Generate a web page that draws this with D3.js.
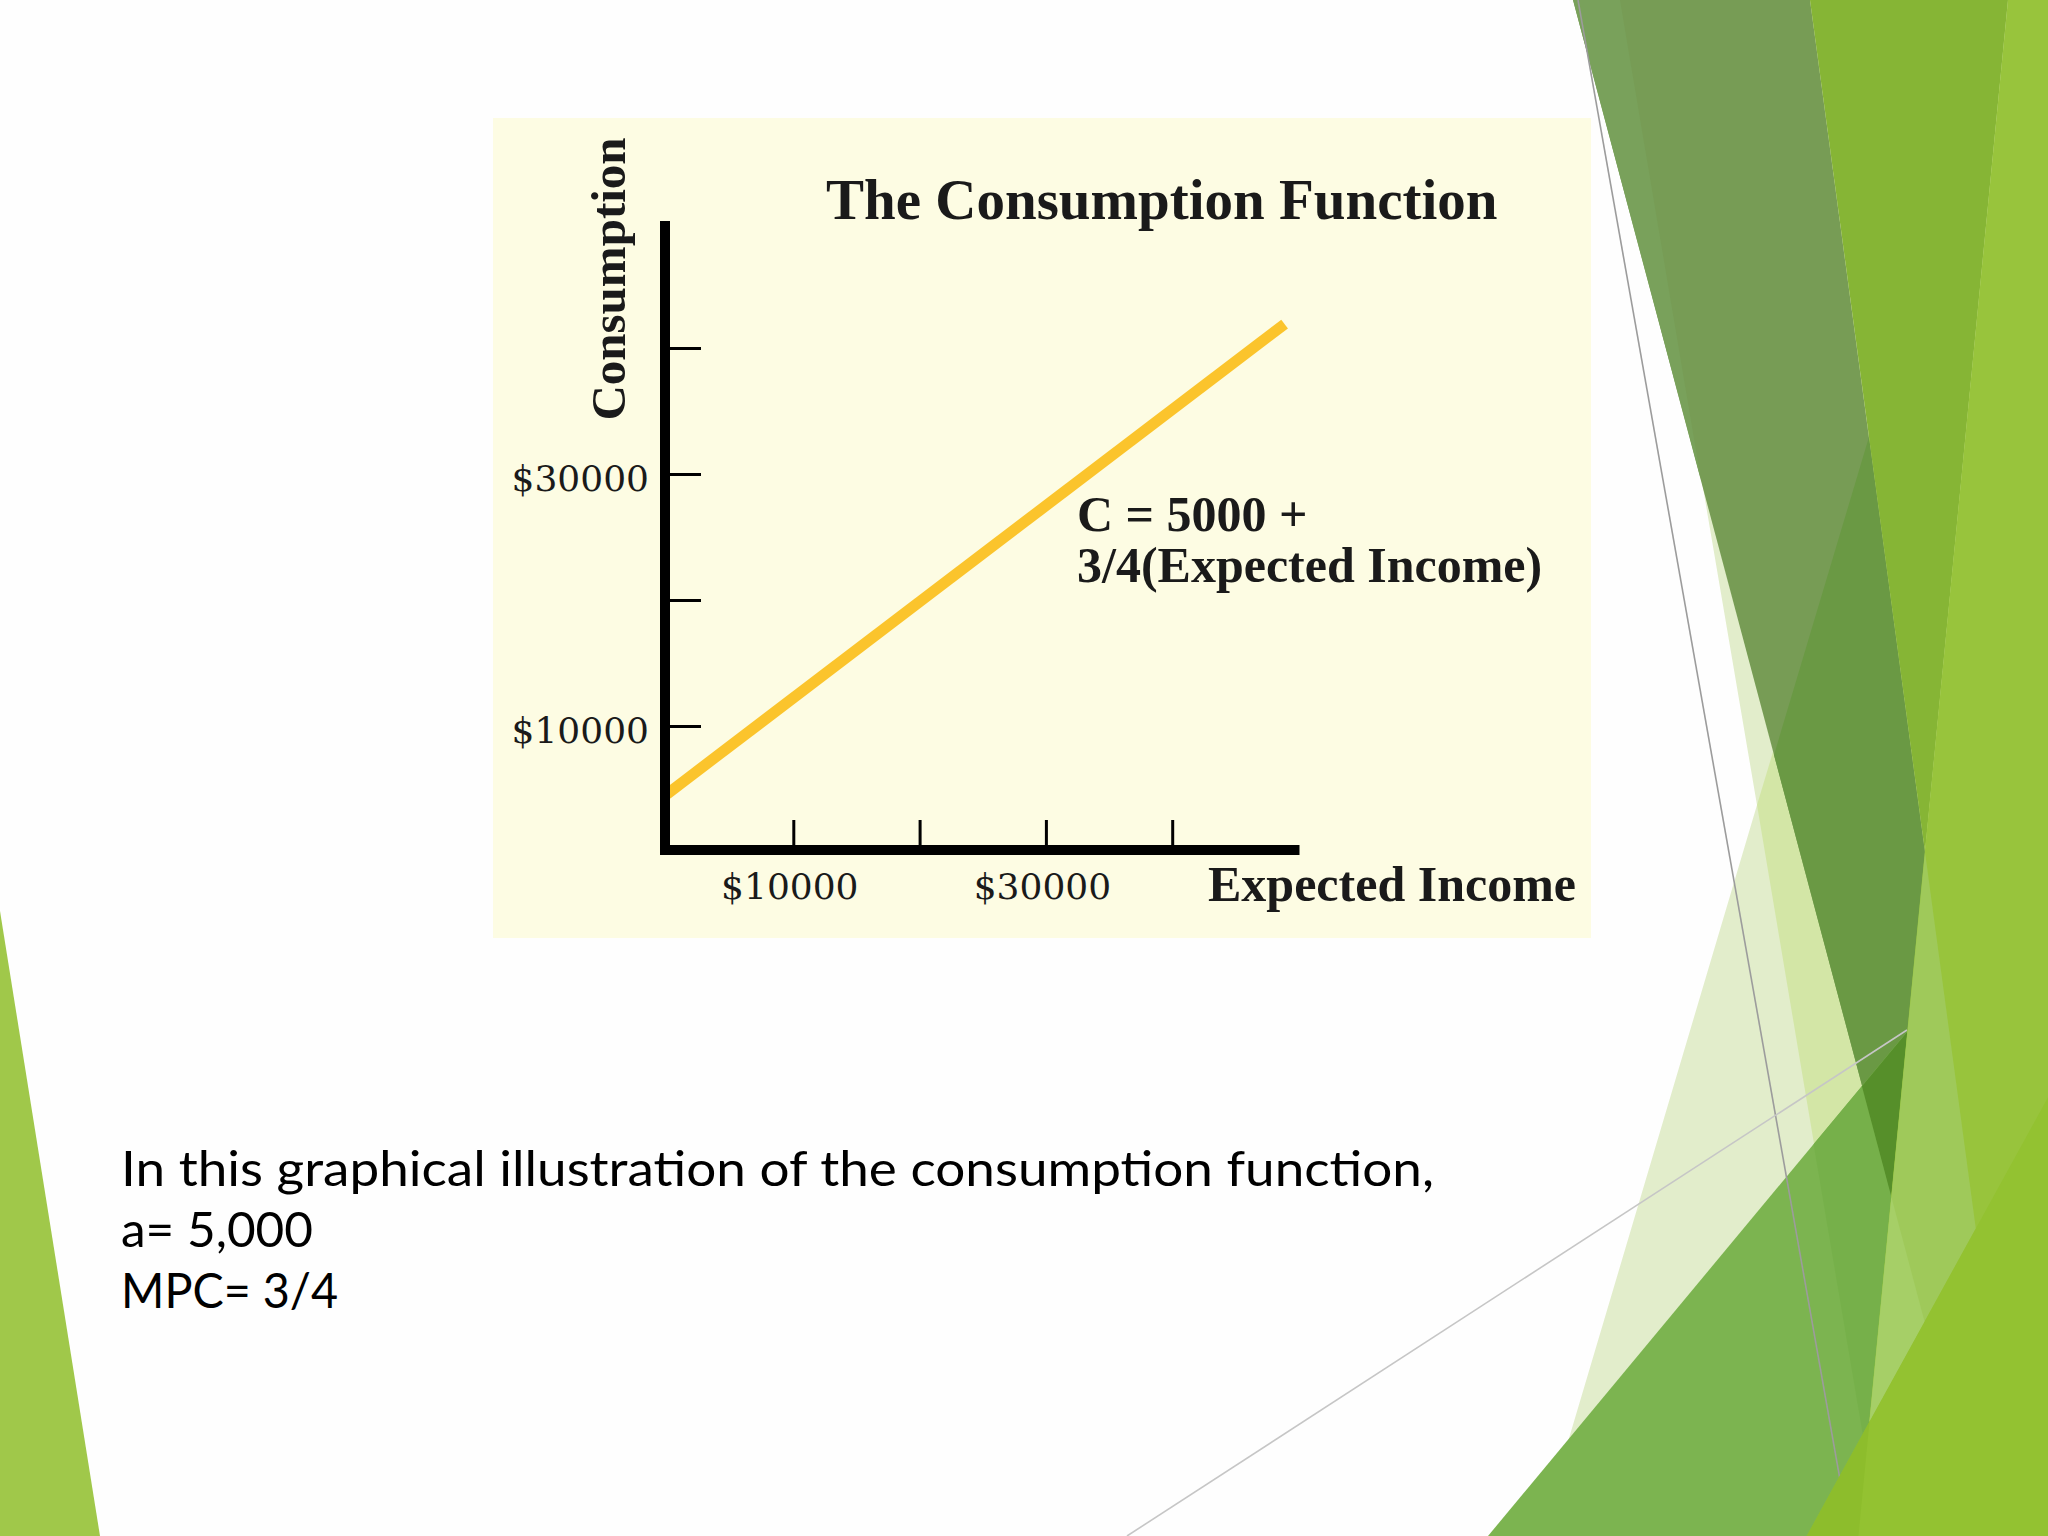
<!DOCTYPE html>
<html>
<head>
<meta charset="utf-8">
<script src="https://cdn.jsdelivr.net/npm/d3@7"></script>
<style>
    body { margin: 0; background: #fefefe; }
    svg { display: block; }
</style>
</head>
<body>
<div id="slide"></div>
<script>
// values
const incomeTicks = [10000, 20000, 30000, 40000];
const consumptionTicks = [10000, 20000, 30000, 40000];
const labelledTicks = [10000, 30000];
const expectedIncome = [0, 48900];
const consumption = [4600, 41900];

const chartTitle = "The Consumption Function";
const xTitle = "Expected Income";
const yTitle = "Consumption";
const equationLines = ["C = 5000 +", "3/4(Expected Income)"];
const noteLines = [
    "In this graphical illustration of the consumption function,",
    "a= 5,000",
    "MPC= 3/4"
];

function drawSlide() {

    // 1. Dimensions
    const dimensions = {
        width: 2048,
        height: 1536,
        box: {x: 493, y: 118, width: 1098, height: 820},
    }

    const serif = "'Liberation Serif', 'Times New Roman', serif";

    const svg = d3.select("#slide")
        .append("svg")
            .attr("width", dimensions.width)
            .attr("height", dimensions.height)

    svg.append("rect")
        .attr("width", dimensions.width)
        .attr("height", dimensions.height)
        .attr("fill", "#fefefe")

    // 2. Slide decoration (theme facets, back to front)
    const facets = [
        {fill: "#e2edcb", pts: [[1620,0],[1757,805],[1540,1536],[2048,1536],[2048,0]]},
        {fill: "#d3e6a6", pts: [[2000,0],[1757,805],[1880,1536],[2048,1536],[2048,0]]},
        {fill: "#779c55", pts: [[1573,0],[1810,0],[2017,1536],[1982,1536]]},
        {fill: "#79a15b", pts: [[1573,0],[1620,0],[1701,480]]},
        {fill: "#6a9944", pts: [[1869,437],[1774,755],[1982,1536],[2017,1536]]},
        {fill: "#86b535", pts: [[1810,0],[2008,0],[1925,852]]},
        {fill: "#7cb450", pts: [[1488,1536],[2048,862],[2048,1536]]},
        {fill: "#76b04a", pts: [[1813.6,1144.3],[1861.9,1086.2],[1982,1536],[1880,1536]]},
        {fill: "#568f2a", pts: [[1861.9,1086.2],[1907.5,1031.4],[1891.4,1197]]},
    ]
    const facetsTop = [
        {fill: "#98c43c", pts: [[2008,0],[2048,0],[2048,1536],[1858,1536]]},
        {fill: "#9fc95a", pts: [[1925,852],[1975.8,1228.5],[1869.5,1421.6]]},
        {fill: "#a6cf67", pts: [[1891.4,1197],[1924.6,1321.7],[1869.5,1421.6]]},
        {fill: "#93c231", pts: [[1806.7,1536],[2048,1097.3],[2048,1536]]},
        {fill: "#8dbd2c", pts: [[1806.7,1536],[1869.5,1421.6],[1858.4,1536]]},
        {fill: "#a0c84a", pts: [[0,911],[100,1536],[0,1536]]},
    ]

    const deco = svg.append("g").attr("id", "decoration")

    deco.selectAll("polygon.back")
        .data(facets)
        .join("polygon")
            .attr("class", "back")
            .attr("points", d => d.pts.join(" "))
            .attr("fill", d => d.fill)

    // thin connector lines of the theme
    deco.append("line")
        .attr("x1", 1578).attr("y1", 0)
        .attr("x2", 1850).attr("y2", 1536)
        .attr("stroke", "#9c9c9c")
        .attr("stroke-width", 1.6)
    deco.append("line")
        .attr("x1", 1127).attr("y1", 1536)
        .attr("x2", 1907).attr("y2", 1030)
        .attr("stroke", "#c6c6c6")
        .attr("stroke-width", 1.6)

    deco.selectAll("polygon.front")
        .data(facetsTop)
        .join("polygon")
            .attr("class", "front")
            .attr("points", d => d.pts.join(" "))
            .attr("fill", d => d.fill)

    // 3. Chart panel
    svg.append("rect")
        .attr("x", dimensions.box.x)
        .attr("y", dimensions.box.y)
        .attr("width", dimensions.box.width)
        .attr("height", dimensions.box.height)
        .attr("fill", "#fdfce3")

    // 4. Scales
    const xScale = d3.scaleLinear()
        .domain([0, 50000])
        .range([667, 1298.5])

    const yScale = d3.scaleLinear()
        .domain([0, 50000])
        .range([852, 222])

    const chart = svg.append("g").attr("id", "chart")

    // consumption function
    const lineGenerator = d3.line()
        .x(d => xScale(d[0]))
        .y(d => yScale(d[1]))

    chart.append("path")
        .datum(d3.zip(expectedIncome, consumption))
        .attr("d", lineGenerator)
        .attr("fill", "none")
        .attr("stroke", "#fbc42c")
        .attr("stroke-width", 11)
        .attr("stroke-linecap", "butt")

    // 5. Axes
    const axisX0 = xScale(0) - 2
    const axisY0 = yScale(0) - 2

    chart.append("path")
        .attr("d", d3.line()([
            [axisX0, yScale(50000) - 1],
            [axisX0, axisY0],
            [xScale(50000) + 1, axisY0]
        ]))
        .attr("fill", "none")
        .attr("stroke", "#000")
        .attr("stroke-width", 10)
        .attr("stroke-linejoin", "miter")

    const tickLabel = d => labelledTicks.includes(d) ? "$" + d : ""

    const yAxis = d3.axisLeft(yScale)
        .tickValues(consumptionTicks)
        .tickSizeInner(-36)
        .tickSizeOuter(0)
        .tickPadding(16)
        .tickFormat(tickLabel)

    const xAxis = d3.axisBottom(xScale)
        .tickValues(incomeTicks)
        .tickSizeInner(-30)
        .tickSizeOuter(0)
        .tickPadding(23)
        .tickFormat(tickLabel)

    const styleAxis = g => {
        g.select(".domain").remove()
        g.selectAll(".tick line")
            .attr("stroke", "#000")
            .attr("stroke-width", 3)
        g.selectAll(".tick text")
            .attr("fill", "#1a1a1a")
            .style("font-family", "'DejaVu Serif', serif")
            .style("font-size", "36px")
    }

    chart.append("g")
        .attr("transform", `translate(${axisX0},0)`)
        .call(yAxis)
        .call(styleAxis)
        .call(g => g.selectAll(".tick text").attr("dy", "0.47em"))

    chart.append("g")
        .attr("transform", `translate(0,${axisY0})`)
        .call(xAxis)
        .call(styleAxis)
        .call(g => g.selectAll(".tick text").attr("dx", -4))

    // 6. Titles and annotation
    chart.append("text")
        .attr("x", 826)
        .attr("y", 219)
        .style("font-family", serif)
        .style("font-size", "57px")
        .style("font-weight", 700)
        .attr("fill", "#1a1a1a")
        .text(chartTitle)

    chart.append("text")
        .attr("transform", "translate(625,279) rotate(-90)")
        .attr("text-anchor", "middle")
        .style("font-family", serif)
        .style("font-size", "49px")
        .style("font-weight", 700)
        .attr("fill", "#1a1a1a")
        .text(yTitle)

    chart.append("text")
        .attr("x", 1208)
        .attr("y", 901)
        .style("font-family", serif)
        .style("font-size", "50px")
        .style("font-weight", 700)
        .attr("fill", "#1a1a1a")
        .text(xTitle)

    chart.selectAll("text.equation")
        .data(equationLines)
        .join("text")
            .attr("class", "equation")
            .attr("x", 1077)
            .attr("y", (d, i) => 531 + i * 51)
            .style("font-family", serif)
            .style("font-size", "50px")
            .style("font-weight", 700)
            .attr("fill", "#1a1a1a")
            .text(d => d)

    // 7. Slide text
    const noteWidths = [1313, 192, 217]
    svg.append("g")
        .selectAll("text")
        .data(noteLines)
        .join("text")
            .attr("x", 121)
            .attr("y", (d, i) => 1186 + i * 61)
            .attr("textLength", (d, i) => noteWidths[i])
            .attr("lengthAdjust", "spacingAndGlyphs")
            .style("font-family", "Lato, 'Noto Sans', sans-serif")
            .style("font-size", "49px")
            .attr("fill", "#000")
            .text(d => d)
}

drawSlide();
</script>
</body>
</html>
